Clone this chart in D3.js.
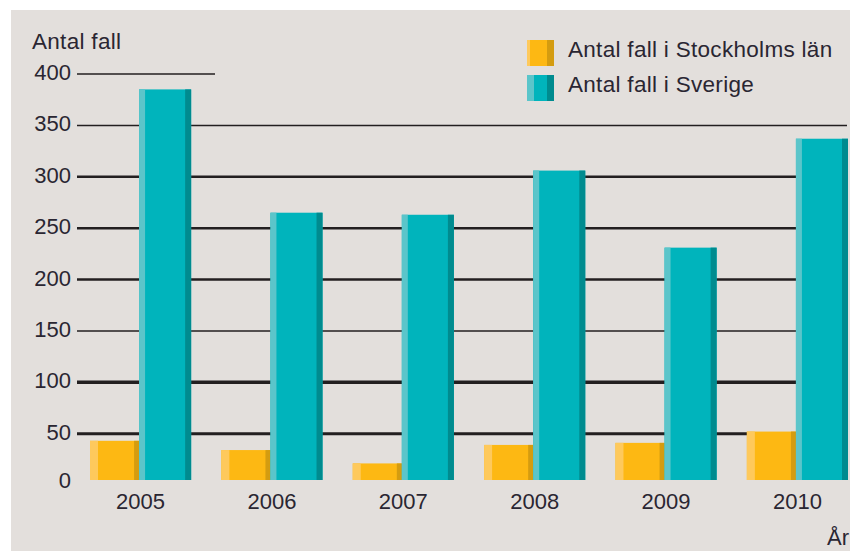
<!DOCTYPE html>
<html>
<head>
<meta charset="utf-8">
<script src="https://cdn.jsdelivr.net/npm/d3@7"></script>
<style>
  body { margin: 0; background: #fff; }
  text { font-family: "Liberation Sans", Arial, sans-serif; fill: #2a2632; }
</style>
</head>
<body>
<script>
(function() {

    const width = 850;
    const height = 551;

    // data
    const years = ["2005", "2006", "2007", "2008", "2009", "2010"];
    const stockholm = [43, 34, 21, 39, 41, 52];
    const sverige = [385, 265, 263, 306, 231, 337];
    const yTicks = [0, 50, 100, 150, 200, 250, 300, 350, 400];
    const seriesNames = ["Antal fall i Stockholms län", "Antal fall i Sverige"];

    // line weight per gridline (the printed chart is uneven)
    const gridWeight = {50: 3, 100: 3.5, 150: 1.5, 200: 2.5, 250: 2.5, 300: 2.5, 350: 1.5, 400: 1.5};

    const colors = [
        {main: "#fdb813", light: "#fec95c", dark: "#d49c10"},
        {main: "#00b4bc", light: "#5bc5ca", dark: "#008b8f"}
    ];

    let svg = d3.select("body").append("svg")
        .attr("width", width)
        .attr("height", height);

    // grey panel
    svg.append("rect")
        .attr("x", 11)
        .attr("y", 10)
        .attr("width", width - 11)
        .attr("height", height - 10)
        .attr("fill", "#e3dfdc");

    let y = d3.scaleLinear()
        .domain([0, 400])
        .range([485, 74]);

    let x = d3.scaleBand()
        .domain(years)
        .range([90, 848])
        .paddingInner(0.23)
        .paddingOuter(0);

    let xSub = d3.scaleBand()
        .domain([0, 1])
        .range([0, x.bandwidth()]);

    const barBase = y(0) - 5;

    // gridlines
    svg.selectAll("line.grid")
        .data(yTicks.filter(d => d > 0))
        .enter()
        .append("line")
        .attr("class", "grid")
        .attr("x1", 77)
        .attr("x2", d => d === 400 ? 215 : 847)
        .attr("y1", d => y(d))
        .attr("y2", d => y(d))
        .attr("stroke", "#231f20")
        .attr("stroke-width", d => gridWeight[d]);

    // tick labels
    svg.selectAll("text.ytick")
        .data(yTicks)
        .enter()
        .append("text")
        .attr("class", "ytick")
        .attr("x", 71)
        .attr("y", d => d === 0 ? barBase + 8 : y(d) + 6)
        .attr("text-anchor", "end")
        .style("font-size", "22px")
        .text(d => d);

    svg.append("text")
        .attr("x", 32)
        .attr("y", 49)
        .style("font-size", "22.5px")
        .style("letter-spacing", "0.3px")
        .text("Antal fall");

    // one shaded bar: main face, light left edge, dark right edge
    function drawBar(g, bx, bw, top, c, lightW, darkW) {
        let h = barBase - top;
        g.append("rect").attr("x", bx).attr("y", top).attr("width", bw).attr("height", h).attr("fill", c.main);
        g.append("rect").attr("x", bx).attr("y", top).attr("width", lightW).attr("height", h).attr("fill", c.light);
        g.append("rect").attr("x", bx + bw - darkW).attr("y", top).attr("width", darkW).attr("height", h).attr("fill", c.dark);
    }

    let groups = svg.selectAll("g.year")
        .data(years)
        .enter()
        .append("g")
        .attr("class", "year")
        .attr("transform", d => "translate(" + x(d) + ",0)");

    groups.each(function(d, i) {
        let g = d3.select(this);
        drawBar(g, xSub(0), xSub.bandwidth() - 1.5, y(stockholm[i]), colors[0], 8, 5);
        drawBar(g, xSub(1) - 1.5, xSub.bandwidth() + 1.5, y(sverige[i]), colors[1], 6, 6);
    });

    // year labels
    svg.selectAll("text.xtick")
        .data(years)
        .enter()
        .append("text")
        .attr("class", "xtick")
        .attr("x", d => x(d) + x.bandwidth() / 2)
        .attr("y", 509)
        .attr("text-anchor", "middle")
        .style("font-size", "22px")
        .text(d => d);

    svg.append("text")
        .attr("x", 827)
        .attr("y", 545)
        .style("font-size", "22px")
        .text("År");

    // legend
    let legend = svg.selectAll("g.legend")
        .data(seriesNames)
        .enter()
        .append("g")
        .attr("class", "legend")
        .attr("transform", (d, i) => "translate(527," + (40 + i * 35) + ")");

    legend.each(function(d, i) {
        let g = d3.select(this);
        let c = colors[i];
        g.append("rect").attr("width", 27).attr("height", 26).attr("fill", c.main);
        g.append("rect").attr("width", i === 0 ? 3 : 7).attr("height", 26).attr("fill", c.light);
        g.append("rect").attr("x", 20).attr("width", 7).attr("height", 26).attr("fill", c.dark);
    });

    legend.append("text")
        .attr("x", 41)
        .attr("y", 17)
        .style("font-size", "22.5px")
        .style("letter-spacing", "0.3px")
        .text(d => d);

})();
</script>
</body>
</html>
